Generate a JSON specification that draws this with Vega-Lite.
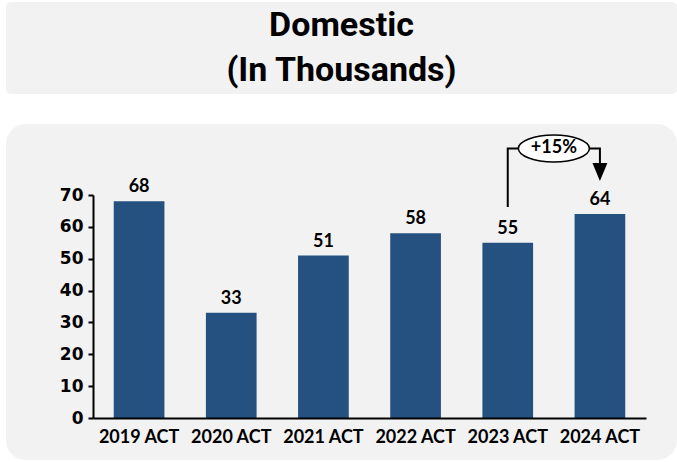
{
  "$schema": "https://vega.github.io/schema/vega-lite/v6.json",
  "background": "white",
  "padding": {"left": 6, "top": 2, "right": 0, "bottom": 0},
  "spacing": 30,
  "bounds": "flush",
  "config": {"view": {"stroke": null}},
  "vconcat": [
    {
      "width": 671,
      "height": 92,
      "view": {"fill": "#f2f2f2", "stroke": null, "cornerRadius": 5},
      "data": {"values": [{"label": "Domestic\n(In Thousands)"}]},
      "mark": {
        "type": "text",
        "font": "Roboto",
        "fontWeight": "bold",
        "fontSize": 34,
        "lineHeight": 45,
        "lineBreak": "\n",
        "align": "center",
        "baseline": "middle",
        "dy": -22,
        "color": "#000"
      },
      "encoding": {"text": {"field": "label"}}
    },
    {
      "width": 671,
      "height": 336,
      "view": {"fill": "#f2f2f2", "stroke": null, "cornerRadius": 20},
      "encoding": {
        "x": {
          "field": "year",
          "type": "nominal",
          "scale": {"type": "band", "range": [87, 640], "paddingInner": 0.45, "paddingOuter": 0.225},
          "axis": {
            "title": null,
            "offset": -42,
            "zindex": 1,
            "domainColor": "#000",
            "domainWidth": 2,
            "ticks": false,
            "labelAngle": 0,
            "labelFont": "Lato",
            "labelFontWeight": "bold",
            "labelFontSize": 18,
            "labelColor": "#000",
            "labelPadding": 10
          }
        },
        "y": {
          "field": "value",
          "type": "quantitative",
          "scale": {"domain": [0, 70], "range": [294, 71], "nice": false, "zero": true},
          "axis": {
            "title": null,
            "offset": -87,
            "grid": false,
            "values": [0, 10, 20, 30, 40, 50, 60, 70],
            "domainColor": "#000",
            "domainWidth": 2,
            "tickColor": "#000",
            "tickWidth": 2,
            "tickSize": 5,
            "labelFont": "DejaVu Sans",
            "labelFontWeight": "bold",
            "labelFontSize": 17,
            "labelColor": "#000",
            "labelPadding": 5
          }
        }
      },
      "layer": [
        {
          "data": {
            "values": [
              {"year": "2019 ACT", "value": 68},
              {"year": "2020 ACT", "value": 33},
              {"year": "2021 ACT", "value": 51},
              {"year": "2022 ACT", "value": 58},
              {"year": "2023 ACT", "value": 55},
              {"year": "2024 ACT", "value": 64}
            ]
          },
          "layer": [
            {"mark": {"type": "bar", "color": "#24517f"}},
            {
              "mark": {
                "type": "text",
                "font": "Lato",
                "fontWeight": "bold",
                "fontSize": 18,
                "baseline": "alphabetic",
                "dy": -9,
                "color": "#000"
              },
              "encoding": {"text": {"field": "value", "type": "quantitative"}}
            }
          ]
        },
        {
          "data": {
            "values": [
              {"year": "2023 ACT", "value": 66.2, "step": 1},
              {"year": "2023 ACT", "value": 84.6, "step": 2},
              {"year": "2024 ACT", "value": 84.6, "step": 3},
              {"year": "2024 ACT", "value": 78.5, "step": 4}
            ]
          },
          "mark": {"type": "line", "color": "#000", "strokeWidth": 2},
          "encoding": {"order": {"field": "step", "type": "quantitative"}}
        },
        {
          "data": {"values": [{"year": "2024 ACT", "value": 77.2}]},
          "mark": {
            "type": "point",
            "shape": "M -0.83 -1 L 0.83 -1 L 0 1 Z",
            "size": 324,
            "filled": true,
            "color": "#000",
            "opacity": 1
          }
        },
        {
          "data": {"values": [{"year": "2023 ACT", "value": 84.6, "label": "+15%"}]},
          "encoding": {
            "x": {"field": "year", "type": "nominal", "bandPosition": 1.41}
          },
          "layer": [
            {
              "mark": {
                "type": "point",
                "shape": "M -1 0 A 1 0.38 0 1 1 1 0 A 1 0.38 0 1 1 -1 0 Z",
                "size": 5041,
                "filled": false,
                "fill": "white",
                "fillOpacity": 1,
                "stroke": "#000",
                "strokeWidth": 1.5,
                "opacity": 1
              }
            },
            {
              "mark": {
                "type": "text",
                "font": "Lato",
                "fontWeight": "bold",
                "fontSize": 18,
                "baseline": "middle",
                "align": "center",
                "color": "#000"
              },
              "encoding": {"text": {"field": "label"}}
            }
          ]
        }
      ]
    }
  ]
}
